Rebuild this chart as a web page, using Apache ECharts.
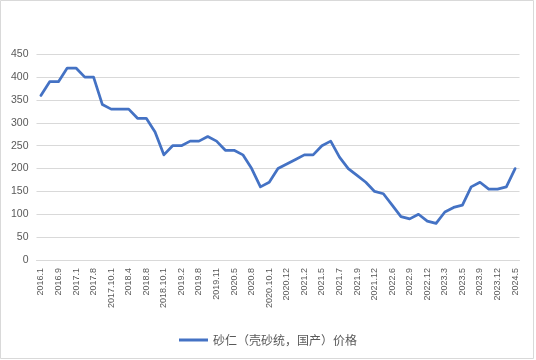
<!DOCTYPE html>
<html>
<head>
<meta charset="utf-8">
<script src="https://cdn.jsdelivr.net/npm/echarts@6/dist/echarts.min.js"></script>
<style>html,body{margin:0;padding:0;background:#fff}#c{width:536px;height:360px}</style>
</head>
<body>
<div id="c"></div>
<script>
const categories = [
  "2016.1","2016.5","2016.9","2016.12","2017.1","2017.5","2017.8","2017.9","2017.10.1","2018.1",
  "2018.4","2018.6","2018.8","2018.9","2018.10.1","2018.12","2019.2","2019.5","2019.8","2019.10",
  "2019.11","2020.2","2020.5","2020.7","2020.8","2020.9","2020.10.1","2020.11","2020.12","2021.1",
  "2021.2","2021.4","2021.5","2021.6","2021.7","2021.8","2021.9","2021.11","2021.12","2022.3",
  "2022.6","2022.8","2022.9","2022.11","2022.12","2023.1","2023.3","2023.4","2023.5","2023.8",
  "2023.9","2023.11","2023.12","2024.3","2024.5"
];
const prices = [
  360,390,390,420,420,400,400,340,330,330,
  330,310,310,280,230,250,250,260,260,270,
  260,240,240,230,200,160,170,200,210,220,
  230,230,250,260,225,200,185,170,150,145,
  120,95,90,100,85,80,105,115,120,160,
  170,155,155,160,200
];
const seriesName = "砂仁（壳砂统，国产）价格";
const yMin = 0, yMax = 450, yStep = 50;

const chart = echarts.init(document.getElementById('c'), null, {renderer: 'canvas'});
chart.setOption({
  animation: false,
  backgroundColor: '#ffffff',
  graphic: [{
    type: 'rect',
    shape: {x: 0.5, y: 0.5, width: 533, height: 358},
    style: {fill: 'none', stroke: '#d9d9d9', lineWidth: 1},
    silent: true, z: -1
  }],
  grid: {left: 36.5, right: 16.5, top: 54.3, bottom: 100, containLabel: false},
  legend: {
    bottom: 9,
    left: 'center',
    icon: 'rect',
    itemWidth: 29,
    itemHeight: 3,
    itemGap: 10,
    textStyle: {color: '#595959', fontSize: 12, fontFamily: '"Noto Sans CJK SC", sans-serif'},
    data: [seriesName]
  },
  xAxis: {
    type: 'category',
    data: categories,
    boundaryGap: true,
    axisLine: {show: true, lineStyle: {color: '#d9d9d9', width: 1}},
    axisTick: {show: false},
    axisLabel: {
      rotate: 90,
      interval: 1,
      margin: 8,
      color: '#595959',
      fontSize: 9,
      fontFamily: '"Liberation Sans", Arial, sans-serif'
    },
    splitLine: {show: false}
  },
  yAxis: {
    type: 'value',
    min: yMin, max: yMax, interval: yStep,
    axisLine: {show: false},
    axisTick: {show: false},
    axisLabel: {color: '#595959', fontSize: 10.5, margin: 8, fontFamily: '"Liberation Sans", Arial, sans-serif'},
    splitLine: {show: true, lineStyle: {color: '#d9d9d9', width: 1}}
  },
  series: [{
    name: seriesName,
    type: 'line',
    data: prices,
    symbol: 'none',
    smooth: false,
    itemStyle: {color: '#4472C4'},
    lineStyle: {color: '#4472C4', width: 2.75, join: 'round', cap: 'round'}
  }]
});
</script>
</body>
</html>
